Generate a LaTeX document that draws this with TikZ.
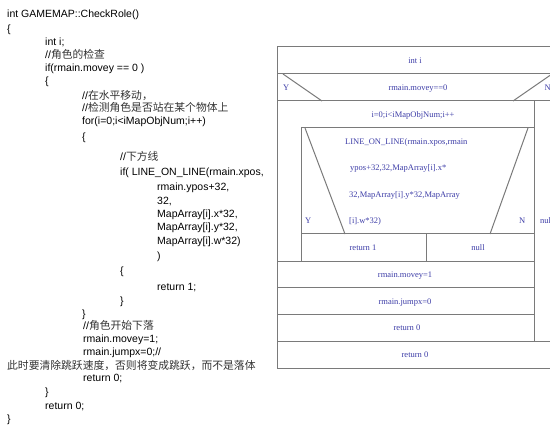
\documentclass[tikz,border=0pt]{standalone}
\usepackage{fontspec}
\setmainfont{Liberation Sans}
\newfontfamily\cjk{Noto Sans CJK SC}
\newfontfamily\nsfont{Liberation Serif}
\definecolor{nsline}{RGB}{122,122,122}
\definecolor{nstext}{RGB}{62,62,168}
\newcommand\cmt[1]{{\cjk\fontsize{10.8}{12}\selectfont\color{black!80}#1}}
\begin{document}
\begin{tikzpicture}[x=1pt,y=-1pt,
  code/.style={anchor=west,inner sep=0pt,text height=7.5pt,text depth=2pt,
    font=\fontsize{10.5}{12}\selectfont},
  ns/.style={inner sep=0pt,text=nstext,text height=6pt,text depth=1.5pt,
    font=\nsfont\fontsize{8.5}{10}\selectfont},
  nsw/.style={ns,anchor=west},
  nsrule/.style={draw=nsline,line width=1pt}]
\useasboundingbox (0,0) rectangle (550,436);
\clip (0,0) rectangle (550,436);
\fill[white] (0,0) rectangle (550,436);

% ---- source listing ----
\node[code] (c01) at (7,15)  {int GAMEMAP::CheckRole()};
\node[code] (c02) at (7,30)  {\{};
\node[code] (c03) at (45,43) {int i;};
\node[code] (c04) at (45,56) {//\cmt{角色的检查}};
\node[code] (c05) at (45,69) {if(rmain.movey == 0 )};
\node[code] (c06) at (45,82) {\{};
\node[code] (c07) at (82,97)  {//\cmt{在水平移动，}};
\node[code] (c08) at (82,109) {//\cmt{检测角色是否站在某个物体上}};
\node[code] (c09) at (82,122) {for(i=0;i<iMapObjNum;i++)};
\node[code] (c10) at (82,138) {\{};
\node[code] (c11) at (120,158) {//\cmt{下方线}};
\node[code] (c12) at (120,173) {if( LINE\_ON\_LINE(rmain.xpos,};
\node[code] (c13) at (157,188) {rmain.ypos+32,};
\node[code] (c14) at (157,202) {32,};
\node[code] (c15) at (157,215) {MapArray[i].x*32,};
\node[code] (c16) at (157,228) {MapArray[i].y*32,};
\node[code] (c17) at (157,242) {MapArray[i].w*32)};
\node[code] (c18) at (157,257) {)};
\node[code] (c19) at (120,272) {\{};
\node[code] (c20) at (157,288) {return 1;};
\node[code] (c21) at (120,302) {\}};
\node[code] (c22) at (82,315)  {\}};
\node[code] (c23) at (83,327)  {//\cmt{角色开始下落}};
\node[code] (c24) at (83,340)  {rmain.movey=1;};
\node[code] (c25) at (83,353)  {rmain.jumpx=0;//};
\node[code] (c26) at (7,367)   {\cmt{此时要清除跳跃速度，否则将变成跳跃，而不是落体}};
\node[code] (c27) at (83,379)  {return 0;};
\node[code] (c28) at (45,393)  {\}};
\node[code] (c29) at (45,407)  {return 0;};
\node[code] (c30) at (7,420)   {\}};

% ---- structogram frame ----
\draw[nsrule] (277,47) rectangle (558,368);
\draw[nsrule] (277,74) -- (558,74);
\draw[nsrule] (277,101) -- (558,101);
\draw[nsrule] (283,74) -- (322,101);
\draw[nsrule] (513,101) -- (552,74);
\draw[nsrule] (534,101) -- (534,341);
\draw[nsrule] (301,128) -- (534,128);
\draw[nsrule] (301,128) -- (301,261);
\draw[nsrule] (305,128) -- (345,234);
\draw[nsrule] (528,128) -- (490,234);
\draw[nsrule] (301,234) -- (534,234);
\draw[nsrule] (426,234) -- (426,261);
\draw[nsrule] (277,261) -- (534,261);
\draw[nsrule] (277,287) -- (534,287);
\draw[nsrule] (277,314) -- (534,314);
\draw[nsrule] (277,341) -- (558,341);

% ---- structogram labels ----
\node[ns] (s01) at (415,61)  {int i};
\node[ns] (s02) at (418,88)  {rmain.movey==0};
\node[nsw] (s03) at (283,88) {Y};
\node[nsw] (s04) at (544.5,88) {N};
\node[ns] (s05) at (413,115) {i=0;i<iMapObjNum;i++};
\node[nsw] (s06) at (345,142) {LINE\_ON\_LINE(rmain.xpos,rmain};
\node[nsw] (s07) at (350,168) {ypos+32,32,MapArray[i].x*};
\node[nsw] (s08) at (349,195) {32,MapArray[i].y*32,MapArray};
\node[nsw] (s09) at (349,221) {[i].w*32)};
\node[nsw] (s10) at (305,221) {Y};
\node[nsw] (s11) at (519,221) {N};
\node[nsw] (s12) at (540,221) {null};
\node[ns] (s13) at (363,248) {return 1};
\node[ns] (s14) at (478,248) {null};
\node[ns] (s15) at (405,275) {rmain.movey=1};
\node[ns] (s16) at (405,302) {rmain.jumpx=0};
\node[ns] (s17) at (407,328) {return 0};
\node[ns] (s18) at (415,355) {return 0};
\end{tikzpicture}
\end{document}
